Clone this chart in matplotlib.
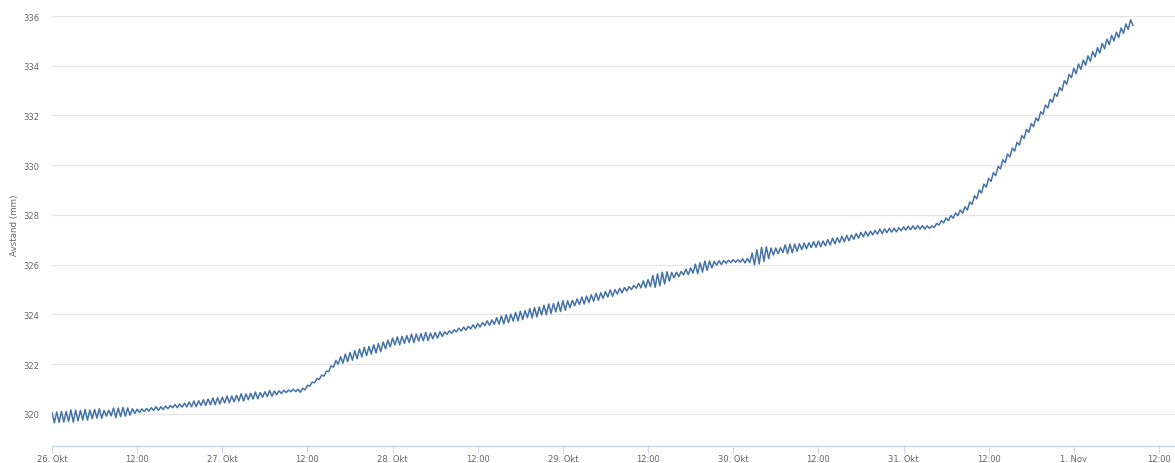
import pandas as pd
import matplotlib
matplotlib.use('Agg')
import matplotlib.pyplot as plt
import matplotlib.dates as mdates

start = '2014-10-26 00:00'

# band edges (mm), every 40 minutes:
# upper = crest at the step, lower = trough 20 minutes later
upper = [
    320.05, 320.08, 320.10, 320.10, 320.16, 320.15, 320.14, 320.18, 320.16, 320.18, 320.21, 320.14,
    320.15, 320.24, 320.24, 320.26, 320.24, 320.21, 320.19, 320.20, 320.22, 320.25, 320.29, 320.29,
    320.32, 320.34, 320.38, 320.40, 320.43, 320.48, 320.52, 320.53, 320.57, 320.60, 320.64, 320.65,
    320.67, 320.72, 320.72, 320.75, 320.81, 320.80, 320.83, 320.88, 320.86, 320.89, 320.94, 320.92,
    320.93, 320.95, 320.96, 320.99, 320.99, 321.03, 321.15, 321.28, 321.42, 321.56, 321.72, 321.93,
    322.15, 322.30, 322.40, 322.47, 322.54, 322.61, 322.68, 322.71, 322.78, 322.83, 322.89, 322.97,
    323.05, 323.10, 323.12, 323.15, 323.21, 323.21, 323.23, 323.28, 323.25, 323.27, 323.30, 323.30,
    323.34, 323.38, 323.45, 323.49, 323.52, 323.58, 323.63, 323.67, 323.74, 323.78, 323.87, 323.94,
    323.99, 324.01, 324.08, 324.13, 324.15, 324.24, 324.28, 324.30, 324.37, 324.42, 324.44, 324.50,
    324.55, 324.55, 324.57, 324.62, 324.70, 324.74, 324.79, 324.85, 324.87, 324.92, 324.99, 325.00,
    325.05, 325.08, 325.12, 325.17, 325.25, 325.35, 325.40, 325.57, 325.63, 325.70, 325.72, 325.69,
    325.70, 325.73, 325.82, 325.87, 326.02, 326.08, 326.15, 326.15, 326.13, 326.16, 326.17, 326.18,
    326.20, 326.20, 326.23, 326.25, 326.47, 326.60, 326.70, 326.72, 326.67, 326.67, 326.68, 326.80,
    326.83, 326.83, 326.84, 326.87, 326.88, 326.93, 326.95, 326.95, 327.01, 327.07, 327.08, 327.14,
    327.18, 327.20, 327.25, 327.30, 327.33, 327.35, 327.38, 327.43, 327.44, 327.46, 327.47, 327.49,
    327.52, 327.54, 327.56, 327.57, 327.57, 327.56, 327.56, 327.66, 327.77, 327.88, 327.98, 328.08,
    328.20, 328.33, 328.52, 328.77, 329.00, 329.24, 329.47, 329.70, 329.95, 330.22, 330.45, 330.69,
    330.92, 331.19, 331.44, 331.67, 331.90, 332.15, 332.42, 332.65, 332.89, 333.13, 333.40, 333.65,
    333.90, 334.07, 334.23, 334.40, 334.57, 334.73, 334.90, 335.07, 335.22, 335.35, 335.52, 335.68,
    335.85,
]
lower = [
    319.64, 319.66, 319.67, 319.70, 319.67, 319.72, 319.75, 319.75, 319.81, 319.83, 319.82, 319.91,
    319.92, 319.85, 319.89, 319.91, 319.95, 320.02, 320.06, 320.09, 320.11, 320.14, 320.14, 320.18,
    320.21, 320.25, 320.25, 320.27, 320.28, 320.29, 320.29, 320.34, 320.34, 320.37, 320.37, 320.40,
    320.44, 320.45, 320.49, 320.52, 320.52, 320.57, 320.60, 320.61, 320.67, 320.70, 320.71, 320.77,
    320.82, 320.86, 320.89, 320.90, 320.87, 320.97, 321.12, 321.25, 321.38, 321.52, 321.70, 321.88,
    322.00, 322.04, 322.10, 322.16, 322.22, 322.29, 322.34, 322.41, 322.45, 322.50, 322.62, 322.70,
    322.77, 322.78, 322.84, 322.87, 322.87, 322.93, 322.94, 322.95, 323.02, 323.05, 323.12, 323.20,
    323.24, 323.30, 323.33, 323.37, 323.42, 323.44, 323.49, 323.55, 323.56, 323.60, 323.61, 323.62,
    323.67, 323.73, 323.74, 323.79, 323.87, 323.86, 323.90, 323.98, 323.99, 324.04, 324.10, 324.12,
    324.17, 324.27, 324.35, 324.40, 324.42, 324.48, 324.53, 324.57, 324.65, 324.70, 324.73, 324.82,
    324.87, 324.94, 325.00, 325.05, 325.07, 325.07, 325.12, 325.09, 325.15, 325.22, 325.34, 325.47,
    325.52, 325.59, 325.60, 325.66, 325.64, 325.70, 325.77, 325.87, 325.98, 326.01, 326.06, 326.09,
    326.10, 326.10, 326.07, 326.08, 325.99, 326.03, 326.13, 326.25, 326.39, 326.44, 326.49, 326.45,
    326.48, 326.54, 326.61, 326.64, 326.69, 326.70, 326.72, 326.76, 326.79, 326.84, 326.89, 326.92,
    326.96, 327.02, 327.07, 327.12, 327.15, 327.20, 327.23, 327.25, 327.29, 327.31, 327.32, 327.36,
    327.39, 327.41, 327.42, 327.43, 327.43, 327.46, 327.49, 327.59, 327.68, 327.77, 327.87, 327.97,
    328.07, 328.20, 328.43, 328.65, 328.88, 329.12, 329.35, 329.58, 329.85, 330.10, 330.33, 330.57,
    330.81, 331.08, 331.32, 331.55, 331.78, 332.05, 332.30, 332.53, 332.77, 333.00, 333.26, 333.52,
    333.68, 333.85, 334.02, 334.18, 334.35, 334.51, 334.68, 334.85, 335.00, 335.13, 335.30, 335.46,
    335.62,
]

tick_labels = ['26. Okt', '12:00', '27. Okt', '12:00', '28. Okt', '12:00', '29. Okt',
               '12:00', '30. Okt', '12:00', '31. Okt', '12:00', '1. Nov', '12:00']
y_ticks = [320, 322, 324, 326, 328, 330, 332, 334, 336]

# interleave crest and trough into one series every 20 minutes
values = []
for hi, lo in zip(upper, lower):
    values.append(hi)
    values.append(lo)
times = pd.date_range(start, periods=len(values), freq='20min')
ticks = pd.date_range(start, periods=len(tick_labels), freq='12h')

fig = plt.figure(figsize=(11.75, 4.64), dpi=100)
ax = fig.add_axes([52 / 1175, 17 / 464, 1 - 52 / 1175, 430 / 464])

ax.plot(times, values, color='#4572a7', linewidth=1.1, solid_joinstyle='round')

t0 = mdates.date2num(pd.Timestamp(start))
ax.set_xlim(t0, t0 + 1123 / 170.3)
ax.set_ylim(318.71, 336)

ax.set_yticks(y_ticks)
ax.set_yticklabels([str(v) for v in y_ticks])
ax.grid(axis='y', color='#e6e6e6', linewidth=1)
ax.set_axisbelow(True)
ax.tick_params(axis='y', length=0, pad=9, labelsize=6, labelcolor='#666666')

ax.set_xticks(mdates.date2num(ticks))
ax.set_xticklabels(tick_labels)
ax.tick_params(axis='x', length=5, width=0.8, color='#ccd6eb', direction='out',
               pad=0.5, labelsize=6, labelcolor='#666666')

for side in ['left', 'right', 'top']:
    ax.spines[side].set_visible(False)
ax.spines['bottom'].set_color('#ccd6eb')
ax.spines['bottom'].set_linewidth(1)

fig.text(14 / 1175, 1 - 225 / 464, 'Avstand (mm)', rotation=90, ha='center', va='center',
         fontsize=6.3, color='#666666')

fig.savefig('out.png', dpi=100)
